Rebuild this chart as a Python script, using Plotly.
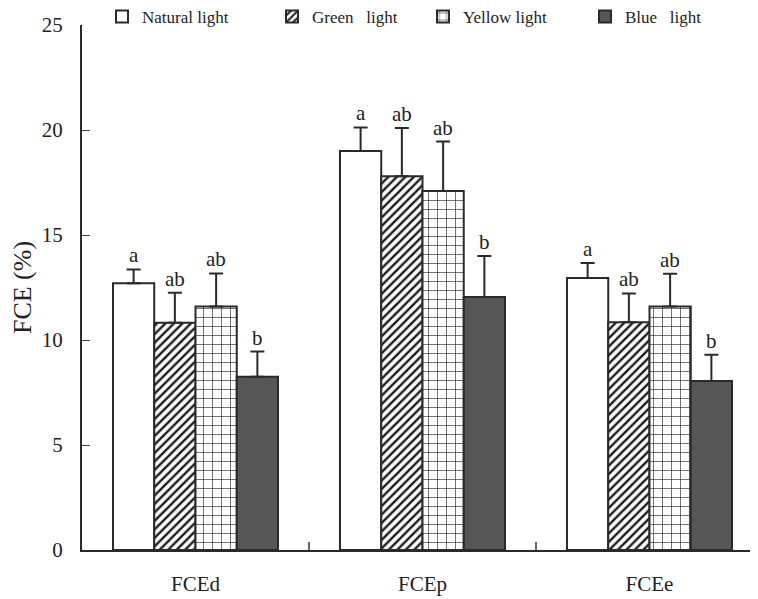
import plotly.graph_objects as go

categories = ["FCEd", "FCEp", "FCEe"]
series_names = ["Natural light", "Green   light", "Yellow light", "Blue   light"]
natural = [12.7, 19.0, 12.95]
green = [10.82, 17.8, 10.84]
yellow = [11.59, 17.1, 11.6]
blue = [8.25, 12.05, 8.05]
natural_err = [0.66, 1.12, 0.72]
green_err = [1.43, 2.3, 1.38]
yellow_err = [1.58, 2.35, 1.55]
blue_err = [1.2, 1.95, 1.25]
natural_sig = ["a", "a", "a"]
green_sig = ["ab", "ab", "ab"]
yellow_sig = ["ab", "ab", "ab"]
blue_sig = ["b", "b", "b"]

values = [natural, green, yellow, blue]
errors = [natural_err, green_err, yellow_err, blue_err]
sigs = [natural_sig, green_sig, yellow_sig, blue_sig]

SERIF = "Liberation Serif, Times New Roman, serif"
EDGE = "#2a2a2a"
bargap = 0.273
x_idx = list(range(len(categories)))

styles = [
    dict(color="white"),
    dict(color="white", pattern=dict(shape="/", fgcolor="#1a1a1a", bgcolor="white", size=6, solidity=0.4)),
    dict(color="white", pattern=dict(shape="+", fgcolor="#2a2a2a", bgcolor="white", size=9, solidity=0.14)),
    dict(color="#565656"),
]

# page has an 8px body margin; plot area spans x 82..758, y 25..550 on screen
plot_left, plot_w = 82, 676
legend_px = [102, 272, 423, 585]
legend_ids = ["legend", "legend2", "legend3", "legend4"]

fig = go.Figure()
for i in range(4):
    fig.add_trace(go.Bar(
        x=x_idx, y=values[i], name=series_names[i],
        marker=dict(**styles[i], line=dict(color=EDGE, width=2)),
        error_y=dict(type="data", symmetric=False, array=errors[i],
                     arrayminus=[0] * len(categories), color=EDGE, thickness=2, width=7),
        legend=legend_ids[i],
    ))

# significance letters
barw = (1 - bargap) / 4
annots = []
for i in range(4):
    for j in x_idx:
        annots.append(dict(
            x=j + (i - 1.5) * barw, y=values[i][j] + errors[i][j],
            text=sigs[i][j], showarrow=False, yanchor="bottom", yshift=0,
            font=dict(family=SERIF, size=21, color="#222"),
        ))

layout_legends = {}
for k, lid in enumerate(legend_ids):
    layout_legends[lid] = dict(
        x=(legend_px[k] - plot_left) / plot_w, y=(550 - 17) / 525,
        xanchor="left", yanchor="middle", orientation="h",
        bgcolor="rgba(0,0,0,0)", font=dict(family=SERIF, size=17, color="#222"),
    )

fig.update_layout(
    template="none",
    width=750, height=591,
    margin=dict(l=74, r=0, t=17, b=49, autoexpand=False),
    paper_bgcolor="white", plot_bgcolor="white",
    barmode="group", bargap=bargap, bargroupgap=0,
    showlegend=True,
    annotations=annots,
    font=dict(family=SERIF, color="#222"),
    **layout_legends,
)
fig.update_xaxes(
    range=[-0.5, 2.478], tickvals=x_idx, ticktext=categories,
    ticks="", showgrid=False, zeroline=False,
    showline=True, linecolor=EDGE, linewidth=1.5,
    tickfont=dict(family=SERIF, size=21, color="#222"),
    minor=dict(tickvals=[0.5, 1.5], ticks="inside", ticklen=8, tickcolor="#666", tickwidth=1.5),
    automargin=False, ticklabelstandoff=14,
)
fig.update_yaxes(
    range=[0, 25], tickvals=[0, 5, 10, 15, 20, 25],
    ticks="inside", ticklen=8, tickcolor="#444", tickwidth=1,
    showgrid=False, zeroline=False,
    showline=True, linecolor=EDGE, linewidth=2,
    tickfont=dict(family=SERIF, size=21, color="#222"),
    ticklabelstandoff=13,
    title=dict(text="FCE (%)", font=dict(family=SERIF, size=26, color="#222"), standoff=8),
    automargin=False,
)

fig.write_html("out.html")
